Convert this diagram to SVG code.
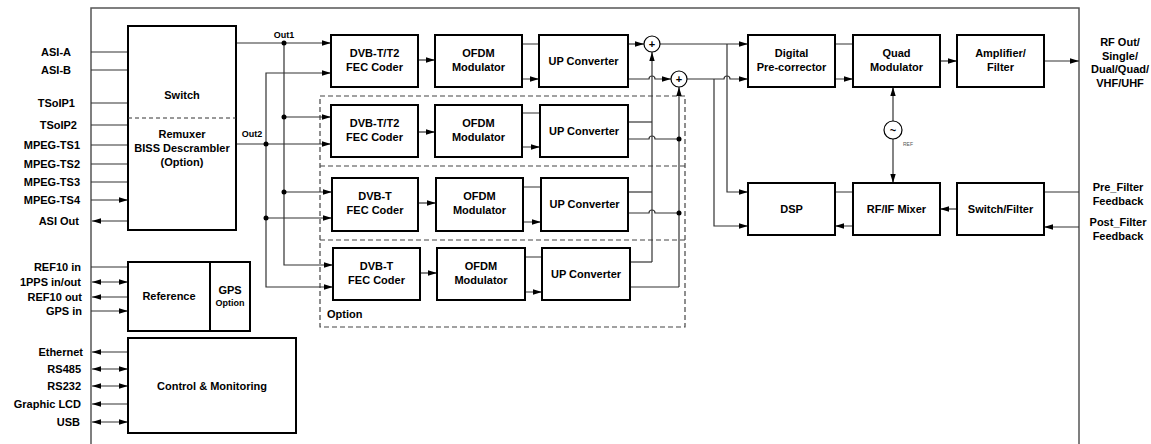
<svg xmlns="http://www.w3.org/2000/svg" width="1151" height="444" viewBox="0 0 1151 444">
<style>
text{font-family:"Liberation Sans",Arial,sans-serif;font-weight:bold;font-size:11px;fill:#000}
.c{text-anchor:middle}
.e{text-anchor:end}
.box{fill:#fff;stroke:#000;stroke-width:2}
.ln{fill:none;stroke:#333;stroke-width:1.2}
.a{marker-end:url(#ah)}
.b{marker-start:url(#ah);marker-end:url(#ah)}
.dash{fill:none;stroke:#444;stroke-width:1.2;stroke-dasharray:5 3}
.dot{fill:#000}
.sum{fill:#fff;stroke:#000;stroke-width:1.2}
.frame{fill:none;stroke:#555;stroke-width:1.5}
.sm{font-size:9px}
</style>
<defs>
<marker id="ah" viewBox="0 0 10 6" refX="10" refY="3" markerWidth="9" markerHeight="6" markerUnits="userSpaceOnUse" orient="auto-start-reverse"><path d="M0 0L10 3L0 6z" fill="#000"/></marker>
</defs>
<rect width="1151" height="444" fill="#fff"/>
<path class="frame" d="M91 452V8H1079V452"/>

<g id="labels-left">
<text class="e" x="71" y="56">ASI-A</text>
<text class="e" x="71" y="74">ASI-B</text>
<text class="e" x="75" y="107">TSoIP1</text>
<text class="e" x="77" y="129">TSoIP2</text>
<text class="e" x="80" y="149">MPEG-TS1</text>
<text class="e" x="80" y="168">MPEG-TS2</text>
<text class="e" x="80" y="186">MPEG-TS3</text>
<text class="e" x="80" y="204">MPEG-TS4</text>
<text class="e" x="79" y="225">ASI Out</text>
<text class="e" x="81" y="271">REF10 in</text>
<text class="e" x="81" y="286">1PPS in/out</text>
<text class="e" x="82" y="301">REF10 out</text>
<text class="e" x="82" y="315">GPS in</text>
<text class="e" x="83" y="356">Ethernet</text>
<text class="e" x="81" y="373">RS485</text>
<text class="e" x="81" y="390">RS232</text>
<text class="e" x="81" y="408">Graphic LCD</text>
<text class="e" x="80" y="426">USB</text>
</g>

<g id="labels-right">
<text class="c" x="1120" y="46">RF Out/</text>
<text class="c" x="1120" y="60">Single/</text>
<text class="c" x="1120" y="73">Dual/Quad/</text>
<text class="c" x="1120" y="87">VHF/UHF</text>
<text class="c" x="1118" y="191">Pre_Filter</text>
<text class="c" x="1118" y="205">Feedback</text>
<text class="c" x="1118" y="226">Post_Filter</text>
<text class="c" x="1118" y="240">Feedback</text>
</g>

<g id="option-group">
<rect class="dash" x="320" y="96" width="365" height="231"/>
<path class="dash" d="M320 166H685M320 240H685"/>
<text x="327" y="318">Option</text>
</g>

<g id="connectors">
<path class="ln a" d="M91 52H128M91 70H128M91 103H128M91 125H128M91 145H128M91 164H128M91 182H128M91 200H128"/>
<path class="ln a" d="M128 221H92"/>
<path class="ln a" d="M91 267H128M91 311H128"/>
<path class="ln b" d="M92 282H128"/>
<path class="ln a" d="M128 297H92"/>
<path class="ln a" d="M128 352H92"/>
<path class="ln b" d="M92 369H128"/>
<path class="ln b" d="M92 386H128"/>
<path class="ln a" d="M128 404H92"/>
<path class="ln b" d="M92 422H128"/>

<path class="ln a" d="M236 43H331"/>
<path class="ln a" d="M284 43V265H333"/>
<path class="ln a" d="M284 117H331"/>
<path class="ln a" d="M284 192H332"/>
<path class="ln a" d="M236 144H331"/>
<path class="ln a" d="M266 144V73H331"/>
<path class="ln a" d="M266 144V287H333"/>
<path class="ln a" d="M266 218H332"/>

<path class="ln a" d="M418 60H435"/>
<path class="ln a" d="M522 44H539M522 79H539"/>
<path class="ln a" d="M628 44H644"/>
<path class="ln a" d="M628 79H649A3 3 0 0 1 655 79H671"/>

<path class="ln a" d="M418 132H435"/>
<path class="ln a" d="M522 113H540M522 147H540"/>
<path class="ln" d="M628 122H652"/>
<path class="ln" d="M628 139H649A3 3 0 0 1 655 139H679"/>

<path class="ln a" d="M418 203H436"/>
<path class="ln a" d="M523 187H541M523 222H541"/>
<path class="ln" d="M628 192H652"/>
<path class="ln" d="M628 213H649A3 3 0 0 1 655 213H679"/>

<path class="ln a" d="M420 273H437"/>
<path class="ln a" d="M525 257H542M525 292H542"/>
<path class="ln" d="M630 262H652"/>
<path class="ln" d="M630 287H679"/>

<path class="ln a" d="M652 262V52"/>
<path class="ln a" d="M679 287V87"/>

<path class="ln a" d="M660 44H748"/>
<path class="ln a" d="M687 79H724A3 3 0 0 1 730 79H748"/>
<path class="ln a" d="M727 44V192H748"/>
<path class="ln a" d="M714 79V226H748"/>
<path class="ln a" d="M835 44H853M835 79H853"/>
<path class="ln a" d="M940 61H957"/>
<path class="ln a" d="M1044 61H1079"/>
<path class="ln a" d="M893 121V87"/>
<path class="ln a" d="M893 139V183"/>
<path class="ln a" d="M853 192H835M853 226H835"/>
<path class="ln a" d="M957 209H940"/>
<path class="ln a" d="M1079 192H1044M1079 227H1044"/>

<circle class="dot" cx="284" cy="43" r="2.5"/>
<circle class="dot" cx="284" cy="117" r="2.5"/>
<circle class="dot" cx="284" cy="192" r="2.5"/>
<circle class="dot" cx="266" cy="144" r="2.5"/>
<circle class="dot" cx="266" cy="218" r="2.5"/>
<circle class="dot" cx="679" cy="139" r="2.5"/>
<circle class="dot" cx="679" cy="213" r="2.5"/>
<text class="c sm" x="284" y="38">Out1</text>
<text class="c sm" x="252" y="137">Out2</text>
</g>

<g id="switch">
<rect class="box" x="128" y="26" width="108" height="204"/>
<path d="M128 118H236" fill="none" stroke="#333" stroke-width="1" stroke-dasharray="4 3"/>
<text class="c" x="182" y="99">Switch</text>
<text class="c" x="182" y="138">Remuxer</text>
<text class="c" x="182" y="152">BISS Descrambler</text>
<text class="c" x="182" y="166">(Option)</text>
</g>

<g id="fec1"><rect class="box" x="331" y="35" width="87" height="52"/><text class="c" x="374.5" y="57">DVB-T/T2</text><text class="c" x="374.5" y="71">FEC Coder</text></g>
<g id="ofdm1"><rect class="box" x="435" y="35" width="87" height="52"/><text class="c" x="478.5" y="57">OFDM</text><text class="c" x="478.5" y="71">Modulator</text></g>
<g id="up1"><rect class="box" x="539" y="35" width="89" height="52"/><text class="c" x="583.5" y="65">UP Converter</text></g>

<g id="fec2"><rect class="box" x="331" y="105" width="87" height="52"/><text class="c" x="374.5" y="127">DVB-T/T2</text><text class="c" x="374.5" y="141">FEC Coder</text></g>
<g id="ofdm2"><rect class="box" x="435" y="105" width="87" height="52"/><text class="c" x="478.5" y="127">OFDM</text><text class="c" x="478.5" y="141">Modulator</text></g>
<g id="up2"><rect class="box" x="540" y="105" width="88" height="52"/><text class="c" x="584" y="135">UP Converter</text></g>

<g id="fec3"><rect class="box" x="332" y="178" width="86" height="53"/><text class="c" x="375" y="200">DVB-T</text><text class="c" x="375" y="214">FEC Coder</text></g>
<g id="ofdm3"><rect class="box" x="436" y="178" width="87" height="53"/><text class="c" x="479.5" y="200">OFDM</text><text class="c" x="479.5" y="214">Modulator</text></g>
<g id="up3"><rect class="box" x="541" y="178" width="87" height="53"/><text class="c" x="584.5" y="208">UP Converter</text></g>

<g id="fec4"><rect class="box" x="333" y="248" width="87" height="52"/><text class="c" x="376.5" y="270">DVB-T</text><text class="c" x="376.5" y="284">FEC Coder</text></g>
<g id="ofdm4"><rect class="box" x="437" y="248" width="88" height="52"/><text class="c" x="481" y="270">OFDM</text><text class="c" x="481" y="284">Modulator</text></g>
<g id="up4"><rect class="box" x="542" y="248" width="88" height="52"/><text class="c" x="586" y="278">UP Converter</text></g>

<g id="sum1"><circle class="sum" cx="652" cy="44" r="8"/><text class="c" x="652" y="48">+</text></g>
<g id="sum2"><circle class="sum" cx="679" cy="79" r="8"/><text class="c" x="679" y="83">+</text></g>

<g id="dpc"><rect class="box" x="748" y="35" width="87" height="52"/><text class="c" x="791.5" y="57">Digital</text><text class="c" x="791.5" y="71">Pre-corrector</text></g>
<g id="quad"><rect class="box" x="853" y="35" width="87" height="52"/><text class="c" x="896.5" y="57">Quad</text><text class="c" x="896.5" y="71">Modulator</text></g>
<g id="amp"><rect class="box" x="957" y="35" width="87" height="52"/><text class="c" x="1000.5" y="57">Amplifier/</text><text class="c" x="1000.5" y="71">Filter</text></g>

<g id="osc"><circle class="sum" cx="893" cy="130" r="9"/><text class="c" x="893" y="134">~</text><text x="903" y="146" style="font-size:5px;font-weight:normal;fill:#555">REF</text></g>

<g id="dsp"><rect class="box" x="748" y="183" width="87" height="52"/><text class="c" x="791.5" y="213">DSP</text></g>
<g id="mixer"><rect class="box" x="853" y="183" width="87" height="52"/><text class="c" x="896.5" y="213">RF/IF Mixer</text></g>
<g id="swfilter"><rect class="box" x="957" y="183" width="87" height="52"/><text class="c" x="1000.5" y="213">Switch/Filter</text></g>

<g id="reference">
<rect class="box" x="128" y="262" width="122" height="69"/>
<path d="M210 262V331" stroke="#000" stroke-width="2"/>
<text class="c" x="169" y="300">Reference</text>
<text class="c" x="230" y="294">GPS</text>
<text class="c sm" x="230" y="306">Option</text>
</g>

<g id="control">
<rect class="box" x="128" y="338" width="168" height="95"/>
<text class="c" x="212" y="390">Control &amp; Monitoring</text>
</g>
</svg>
